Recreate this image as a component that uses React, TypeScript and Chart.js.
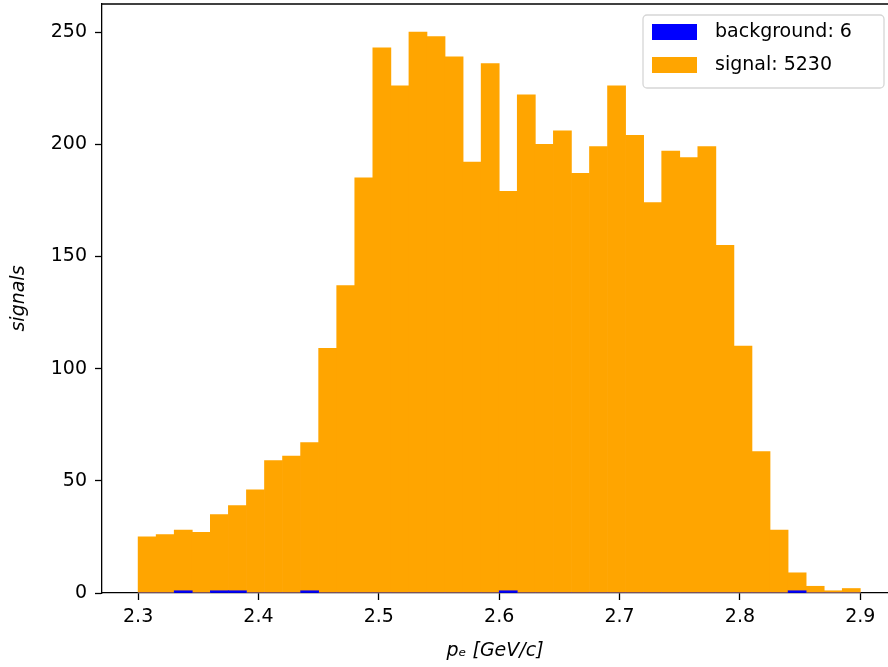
import React, { useEffect, useRef } from 'react';
import { Chart, registerables } from 'chart.js';

Chart.register(...registerables);

// Histogram binning (40 bins from 2.3 to 2.9)
const BIN_START = 2.3;
const BIN_WIDTH = 0.015;

// Counts per bin (stacked: background at bottom)
const backgroundCounts = [
  0, 0, 1, 0, 1, 1, 0, 0, 0, 1,
  0, 0, 0, 0, 0, 0, 0, 0, 0, 0,
  1, 0, 0, 0, 0, 0, 0, 0, 0, 0,
  0, 0, 0, 0, 0, 0, 1, 0, 0, 0,
];
const signalCounts = [
  25, 26, 27, 27, 34, 38, 46, 59, 61, 66,
  109, 137, 185, 243, 226, 250, 248, 239, 192, 236,
  178, 222, 200, 206, 187, 199, 226, 204, 174, 197,
  194, 199, 155, 110, 63, 28, 8, 3, 1, 2,
];

const seriesNames = ['background', 'signal'];
const seriesColors = ['#0000ff', '#ffa500'];

const xTickValues = [2.3, 2.4, 2.5, 2.6, 2.7, 2.8, 2.9];
const yTickValues = [0, 50, 100, 150, 200, 250];

const X_MIN = 2.27;
const X_MAX = 2.923;
const Y_MAX = 262.5;

const FONT = 'DejaVu Sans';

const binCenters = signalCounts.map((_, i) => +(BIN_START + BIN_WIDTH * (i + 0.5)).toFixed(4));
const sum = (a: number[]) => a.reduce((s, v) => s + v, 0);

const legendLabels = [
  `${seriesNames[0]}: ${sum(backgroundCounts)}`,
  `${seriesNames[1]}: ${sum(signalCounts)}`,
];

const frameAndLegend = {
  id: 'frameAndLegend',
  afterDraw(chart: any) {
    const { ctx, chartArea } = chart;
    ctx.save();
    // top spine
    ctx.strokeStyle = '#000';
    ctx.lineWidth = 1.3;
    ctx.beginPath();
    ctx.moveTo(chartArea.left, chartArea.top);
    ctx.lineTo(chartArea.right, chartArea.top);
    ctx.stroke();

    // legend box
    const bx = chartArea.right - 245;
    const by = chartArea.top + 11;
    const bw = 241;
    const bh = 73;
    const r = 4;
    ctx.beginPath();
    ctx.moveTo(bx + r, by);
    ctx.lineTo(bx + bw - r, by);
    ctx.arcTo(bx + bw, by, bx + bw, by + r, r);
    ctx.lineTo(bx + bw, by + bh - r);
    ctx.arcTo(bx + bw, by + bh, bx + bw - r, by + bh, r);
    ctx.lineTo(bx + r, by + bh);
    ctx.arcTo(bx, by + bh, bx, by + bh - r, r);
    ctx.lineTo(bx, by + r);
    ctx.arcTo(bx, by, bx + r, by, r);
    ctx.closePath();
    ctx.fillStyle = 'rgba(255,255,255,0.8)';
    ctx.fill();
    ctx.strokeStyle = '#d6d6d6';
    ctx.lineWidth = 1.3;
    ctx.stroke();

    ctx.font = `19px "${FONT}"`;
    ctx.textBaseline = 'middle';
    ctx.textAlign = 'left';
    legendLabels.forEach((label, i) => {
      const cy = by + 17 + i * 33;
      ctx.fillStyle = seriesColors[i];
      ctx.fillRect(bx + 9, cy - 8, 45, 16);
      ctx.fillStyle = '#000';
      ctx.fillText(label, bx + 72, cy);
    });
    ctx.restore();
  },
};

export default function App() {
  const ref = useRef<HTMLCanvasElement>(null);

  useEffect(() => {
    const canvas = ref.current;
    if (!canvas) return;
    const tickFont = { family: FONT, size: 19 };
    const chart = new Chart(canvas, {
      type: 'bar',
      data: {
        datasets: [
          {
            label: legendLabels[0],
            data: binCenters.map((x, i) => ({ x, y: backgroundCounts[i] })),
            backgroundColor: seriesColors[0],
            borderWidth: 0,
            barPercentage: 1,
            categoryPercentage: 1,
          },
          {
            label: legendLabels[1],
            data: binCenters.map((x, i) => ({ x, y: signalCounts[i] })),
            backgroundColor: seriesColors[1],
            borderWidth: 0,
            barPercentage: 1,
            categoryPercentage: 1,
          },
        ],
      },
      options: {
        responsive: false,
        animation: false,
        layout: { padding: { top: 4, left: 0, right: 0, bottom: 0 } },
        plugins: { legend: { display: false }, tooltip: { enabled: false } },
        scales: {
          x: {
            type: 'linear',
            min: X_MIN,
            max: X_MAX,
            stacked: true,
            offset: false,
            grid: {
              offset: false,
              drawOnChartArea: false,
              drawTicks: true,
              tickLength: 7,
              color: '#000',
              tickColor: '#000',
              tickWidth: 1.3,
            },
            border: { display: true, color: '#000', width: 1.3 },
            ticks: {
              font: tickFont,
              color: '#000',
              padding: 6,
              maxRotation: 0,
              autoSkip: false,
              callback: (v: any) => Number(v).toFixed(1),
            },
            afterBuildTicks: (s: any) => {
              s.ticks = xTickValues.map((v) => ({ value: v }));
            },
            afterFit: (s: any) => {
              s.height = 74;
              s.paddingLeft = 0;
              s.paddingRight = 0;
            },
            title: {
              display: true,
              text: 'pₑ [GeV/c]',
              color: '#000',
              font: { family: FONT, size: 19, style: 'italic' },
              padding: { top: 0, bottom: 5 },
            },
          },
          y: {
            type: 'linear',
            min: 0,
            max: Y_MAX,
            stacked: true,
            grid: {
              drawOnChartArea: false,
              drawTicks: true,
              tickLength: 7,
              color: '#000',
              tickColor: '#000',
              tickWidth: 1.3,
            },
            border: { display: true, color: '#000', width: 1.3 },
            ticks: {
              font: tickFont,
              color: '#000',
              padding: 8,
              callback: (v: any) => String(v),
            },
            afterBuildTicks: (s: any) => {
              s.ticks = yTickValues.map((v) => ({ value: v }));
            },
            afterFit: (s: any) => {
              s.width = 102;
              s.paddingTop = 0;
              s.paddingBottom = 0;
            },
            title: {
              display: true,
              text: 'signals',
              color: '#000',
              font: { family: FONT, size: 19, style: 'italic' },
              padding: { top: 8, bottom: 0 },
            },
          },
        },
      },
      plugins: [frameAndLegend],
    } as any);
    return () => chart.destroy();
  }, []);

  return (
    <div style={{ position: 'fixed', left: 0, top: 0, width: 888, height: 667, background: '#fff' }}>
      <canvas ref={ref} width={888} height={667} style={{ width: 888, height: 667 }} />
    </div>
  );
}
